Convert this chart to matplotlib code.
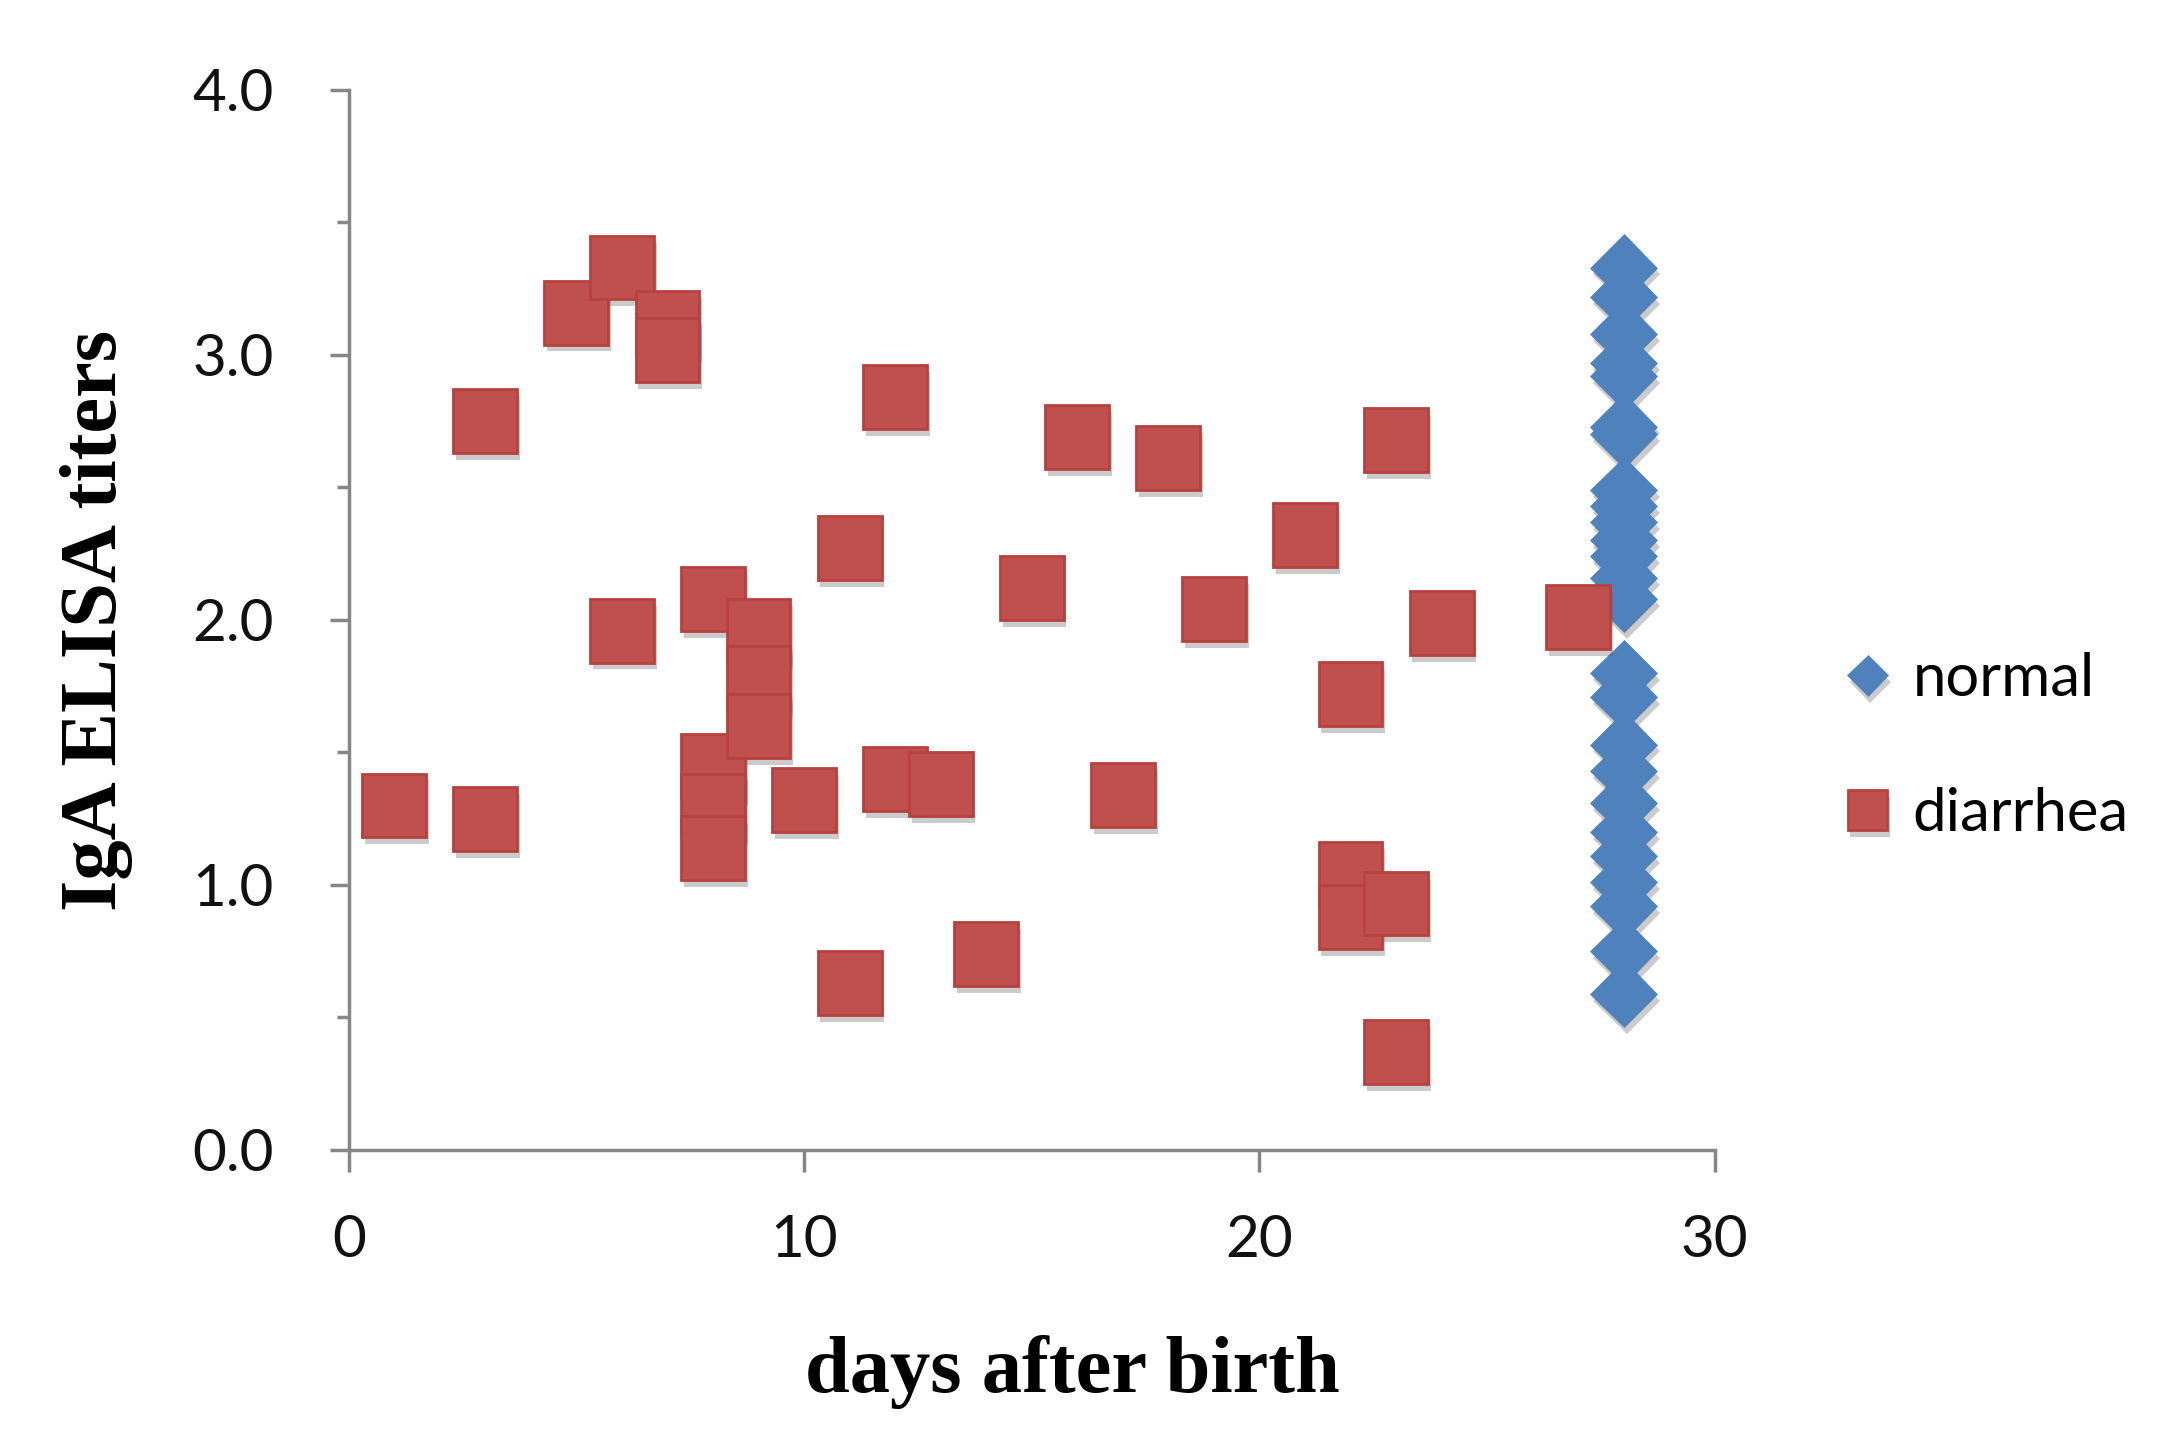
import numpy as np
import matplotlib.pyplot as plt
import matplotlib.patheffects as pe
from matplotlib.ticker import MultipleLocator

# diarrhea group: day after birth, IgA titer
diarrhea_days = [1, 3, 3, 5, 6, 7, 7, 6, 8, 8, 8, 8, 9, 9, 9, 10, 11, 11, 12, 12,
                 13, 14, 15, 16, 17, 18, 19, 21, 22, 22, 22, 23, 23, 23, 24, 27]
diarrhea_titer = [1.30, 1.25, 2.75, 3.16, 3.33, 3.12, 3.02, 1.96, 2.08, 1.45, 1.30, 1.14,
                  1.96, 1.78, 1.60, 1.32, 2.27, 0.63, 2.84, 1.40,
                  1.38, 0.74, 2.12, 2.69, 1.34, 2.61, 2.04, 2.32, 1.72, 1.04, 0.88,
                  0.93, 2.68, 0.37, 1.99, 2.01]

# normal group: all measured at day 28
normal_titer = [3.33, 3.22, 3.08, 2.97, 2.92, 2.73, 2.70, 2.49, 2.43, 2.37, 2.30, 2.24,
                2.16, 2.08, 1.80, 1.71, 1.53, 1.43, 1.31, 1.20, 1.11, 1.01, 0.92,
                0.75, 0.59]
normal_days = [28] * len(normal_titer)

x_ticks = [0, 10, 20, 30]
y_ticks = [0.0, 1.0, 2.0, 3.0, 4.0]

blue = '#4F81BD'
red = '#C0504D'
axis_gray = '#868686'

fig = plt.figure(figsize=(21.66, 14.33), dpi=100)
ax = fig.add_axes([0.161, 0.1975, 0.6307, 0.7397])

shadow = [pe.SimplePatchShadow(offset=(2, -5), shadow_rgbFace='#555555', alpha=0.3),
          pe.Normal()]

ax.plot(normal_days, normal_titer, linestyle='none', marker='D', markersize=34,
        markerfacecolor=blue, markeredgecolor=blue, markeredgewidth=0.5,
        label='normal', path_effects=shadow, clip_on=False, zorder=3)
ax.plot(diarrhea_days, diarrhea_titer, linestyle='none', marker='s', markersize=46,
        markerfacecolor=red, markeredgecolor='#B8413E', markeredgewidth=2,
        label='diarrhea', path_effects=shadow, clip_on=False, zorder=4)

ax.set_xlim(0, 30)
ax.set_ylim(0, 4)
ax.set_xticks(x_ticks)
ax.set_yticks(y_ticks)
ax.set_yticklabels([f'{v:.1f}' for v in y_ticks])
ax.yaxis.set_minor_locator(MultipleLocator(0.5))

for side in ['top', 'right']:
    ax.spines[side].set_visible(False)
for side in ['left', 'bottom']:
    ax.spines[side].set_color(axis_gray)
    ax.spines[side].set_linewidth(2.5)

tick_font = 'Lato'
ax.tick_params(axis='x', which='major', direction='out', length=16, width=2.5,
               color=axis_gray, pad=30, labelsize=42)
ax.tick_params(axis='y', which='major', direction='out', length=14, width=2.5,
               color=axis_gray, pad=40, labelsize=42)
ax.tick_params(axis='y', which='minor', direction='out', length=9, width=2.5,
               color=axis_gray)
for lbl in ax.get_xticklabels() + ax.get_yticklabels():
    lbl.set_fontfamily(tick_font)
    lbl.set_color('#111111')

ax.set_xlabel('days after birth', fontsize=58, fontweight='bold',
              family='Liberation Serif')
ax.xaxis.set_label_coords(0.53, -0.175)
ax.set_ylabel('IgA ELISA titers', fontsize=58, fontweight='bold',
              family='Liberation Serif')
ax.yaxis.set_label_coords(-0.158, 0.5)

leg = fig.legend(loc='center left', bbox_to_anchor=(0.836, 0.479), frameon=False,
                 markerscale=0.62, handlelength=0.9, handletextpad=0.3,
                 labelspacing=1.35, borderpad=0,
                 prop={'family': tick_font, 'size': 43})

fig.savefig('out.png', dpi=100, facecolor='white')
